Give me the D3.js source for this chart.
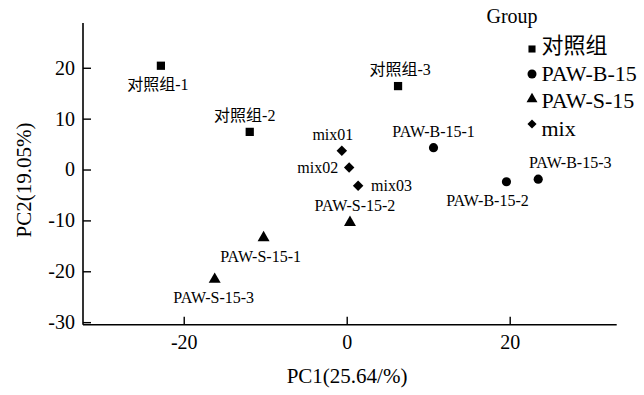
<!DOCTYPE html>
<html>
<head>
<meta charset="utf-8">
<script src="https://cdn.jsdelivr.net/npm/d3@7"></script>
<style>
  html, body { margin: 0; padding: 0; background: #fff; }
  svg text { font-family: "Liberation Serif", "Noto Sans CJK SC", serif; fill: #000; }
</style>
</head>
<body>
<svg id="chart" width="644" height="395"></svg>
<script>
// PCA scores per sample
const sampleNames = ["对照组-1", "对照组-2", "对照组-3",
  "PAW-B-15-1", "PAW-B-15-2", "PAW-B-15-3",
  "PAW-S-15-1", "PAW-S-15-2", "PAW-S-15-3",
  "mix01", "mix02", "mix03"];
const sampleGroups = ["对照组", "对照组", "对照组",
  "PAW-B-15", "PAW-B-15", "PAW-B-15",
  "PAW-S-15", "PAW-S-15", "PAW-S-15",
  "mix", "mix", "mix"];
const pc1 = [-22.8, -11.9, 6.3, 10.65, 19.6, 23.5, -10.2, 0.4, -16.2, -0.6, 0.3, 1.4];
const pc2 = [20.4, 7.4, 16.4, 4.3, -2.4, -1.9, -13.4, -10.4, -21.6, 3.7, 0.4, -3.2];

const groupNames = ["对照组", "PAW-B-15", "PAW-S-15", "mix"];
const xTicks = [-20, 0, 20];
const yTicks = [-30, -20, -10, 0, 10, 20];
const xTitle = "PC1(25.64/%)";
const yTitle = "PC2(19.05%)";
const legendTitle = "Group";

// where each sample's label sits relative to its marker
const labelSide = ["below", "above", "above", "above", "below", "above",
  "below", "above", "below", "above", "left", "right"];
const labelShift = [-3, -5, 2, 0, -19, 32, -3, 5, -1, -9, 0, 0];

const serif = "'Liberation Serif', 'Noto Sans CJK SC', serif";
const svg = d3.select("#chart");
const plotLeft = 83, plotRight = 616.7, plotTop = 23, plotBottom = 324.7;

const x = d3.scaleLinear().domain([-32.36, 33.13]).range([plotLeft, plotRight]);
const y = d3.scaleLinear().domain([-30.5, 28.8]).range([plotBottom, plotTop]);

const symbolFor = {
  "对照组": { type: d3.symbolSquare, size: 68, rotate: 0 },
  "PAW-B-15": { type: d3.symbolCircle, size: 66, rotate: 0 },
  "PAW-S-15": { type: d3.symbolTriangle, size: 62, rotate: 0 },
  "mix": { type: d3.symbolSquare, size: 55, rotate: 45 }
};
const legendSymbol = {
  "对照组": { type: d3.symbolSquare, size: 50, rotate: 0 },
  "PAW-B-15": { type: d3.symbolCircle, size: 64, rotate: 0 },
  "PAW-S-15": { type: d3.symbolTriangle, size: 52, rotate: 0 },
  "mix": { type: d3.symbolSquare, size: 42, rotate: 45 }
};

// axes (plain hyphen for negative numbers)
const fmt = d => String(d);
const xAxis = d3.axisBottom(x).tickValues(xTicks).tickSize(-8).tickPadding(10).tickFormat(fmt);
const yAxis = d3.axisLeft(y).tickValues(yTicks).tickSize(-8).tickPadding(8).tickFormat(fmt);

const gx = svg.append("g").attr("transform", `translate(0,${plotBottom})`).call(xAxis);
const gy = svg.append("g").attr("transform", `translate(${plotLeft},0)`).call(yAxis);
[gx, gy].forEach(g => {
  g.attr("font-family", null);
  g.select(".domain").attr("stroke", "#000").attr("stroke-width", 1.6);
  g.selectAll(".tick line").attr("stroke", "#000").attr("stroke-width", 1.4);
  g.selectAll(".tick text").attr("font-size", 20).style("font-family", serif).attr("fill", "#000");
});
// axis spines without end caps
gx.select(".domain").attr("d", `M${plotLeft},0H${plotRight}`);
gy.select(".domain").attr("d", `M0,${plotTop}V${plotBottom}`);

svg.append("text")
  .attr("x", 347).attr("y", 383)
  .attr("text-anchor", "middle").attr("font-size", 21)
  .style("font-family", serif)
  .text(xTitle);
svg.append("text")
  .attr("transform", `translate(31,180) rotate(-90)`)
  .attr("text-anchor", "middle").attr("font-size", 21)
  .style("font-family", serif)
  .text(yTitle);

// markers
const pts = sampleNames.map((n, i) => ({ name: n, group: sampleGroups[i], x: pc1[i], y: pc2[i], side: labelSide[i], shift: labelShift[i] }));

svg.append("g").selectAll("path").data(pts).join("path")
  .attr("d", d => d3.symbol(symbolFor[d.group].type, symbolFor[d.group].size)())
  .attr("transform", d => `translate(${x(d.x)},${y(d.y)}) rotate(${symbolFor[d.group].rotate})`)
  .attr("fill", "#000");

// sample labels
svg.append("g").selectAll("text").data(pts).join("text")
  .attr("font-size", 16)
  .style("font-family", serif)
  .attr("text-anchor", d => d.side === "left" ? "end" : d.side === "right" ? "start" : "middle")
  .attr("x", d => x(d.x) + (d.side === "left" ? -11 : d.side === "right" ? 13 : d.shift))
  .attr("y", d => y(d.y) + (d.side === "above" ? -11 : d.side === "below" ? 24 : 5.5))
  .text(d => d.name);

// legend
const lg = svg.append("g");
lg.append("text").attr("x", 512).attr("y", 23).attr("text-anchor", "middle")
  .attr("font-size", 20).style("font-family", serif).text(legendTitle);
groupNames.forEach((g, i) => {
  lg.append("path")
    .attr("d", d3.symbol(legendSymbol[g].type, legendSymbol[g].size)())
    .attr("transform", `translate(532,${49 + 25 * i}) rotate(${legendSymbol[g].rotate})`)
    .attr("fill", "#000");
  lg.append("text").attr("x", 541.5).attr("y", 53 + 27.5 * i)
    .attr("font-size", 22).style("font-family", serif).text(g);
});
</script>
</body>
</html>
